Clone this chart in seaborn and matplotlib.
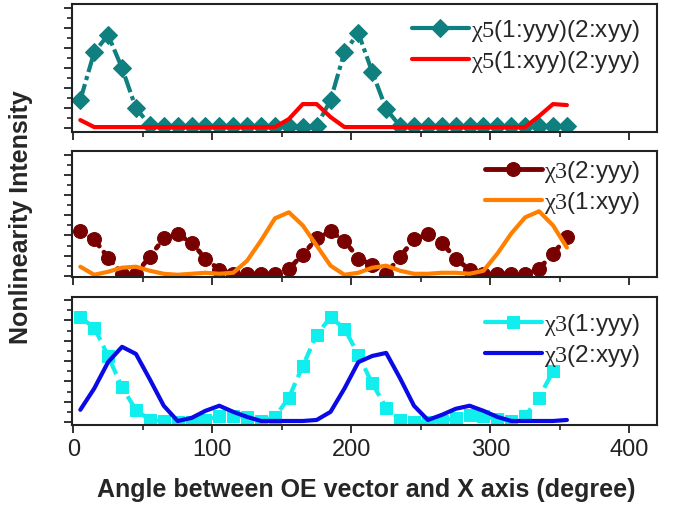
import numpy as np
import matplotlib
matplotlib.use("Agg")
import matplotlib.pyplot as plt
from matplotlib.ticker import MultipleLocator
import seaborn as sns

# angles 5..355 deg, step 10
ANGLES = list(range(5, 360, 10))

# panel 1: chi5
CHI5_YYY_XYY = [28, 76, 93, 60, 20, 3, 2, 2, 2, 2, 2, 2, 2, 2, 2, 2, 1, 2,
                28, 76, 95, 56, 19, 2, 2, 2, 2, 2, 2, 2, 2, 2, 2, 2, 2, 2]
CHI5_XYY_YYY = [8, 1, 1, 1, 1, 1, 1, 1, 1, 1, 1, 1, 1, 1, 1, 9, 24, 24,
                11, 1, 1, 1, 1, 1, 1, 1, 1, 1, 1, 1, 1, 1, 1, 12, 24, 23]

# panel 2: chi3
CHI3_2YYY = [44, 36, 18, 2, 2, 19, 37, 41, 33, 17, 6, 2, 2, 2, 2, 7, 21, 37,
             44, 35, 17, 11, 2, 19, 36, 41, 33, 17, 6, 2, 2, 2, 2, 7, 22, 38]
CHI3_1XYY = [9, 1, 4, 8, 9, 5, 2, 1, 2, 3, 2, 3, 15, 35, 57, 63, 50, 30,
             10, 1, 3, 8, 10, 5, 2, 2, 3, 3, 2, 5, 22, 42, 58, 64, 50, 28]

# panel 3: chi3 (cyan series stops at 345)
CHI3_1YYY = [103, 93, 65, 34, 12, 2, 1, 0, 0, 2, 6, 6, 5, 1, 5, 24, 55, 86,
             103, 92, 66, 38, 14, 2, 0, 0, 1, 4, 7, 6, 3, 1, 6, 24, 50]
CHI3_2XYY = [12, 33, 59, 74, 67, 42, 16, 1, 4, 11, 16, 10, 5, 1, 1, 1, 1, 2,
             10, 33, 59, 65, 68, 43, 16, 2, 7, 13, 16, 11, 5, 1, 1, 1, 1, 2]

LABELS = {
    "c5a": r"$\chi5$(1:yyy)(2:xyy)",
    "c5b": r"$\chi5$(1:xyy)(2:yyy)",
    "c3a": r"$\chi3$(2:yyy)",
    "c3b": r"$\chi3$(1:xyy)",
    "c3c": r"$\chi3$(1:yyy)",
    "c3d": r"$\chi3$(2:xyy)",
}

sns.set_style("ticks")
plt.rcParams["font.family"] = ["Liberation Sans", "DejaVu Sans"]
plt.rcParams["mathtext.fontset"] = "custom"
plt.rcParams["mathtext.rm"] = "Liberation Serif"
plt.rcParams["mathtext.it"] = "Liberation Serif"

fig = plt.figure(figsize=(6.79, 5.06), dpi=100)
L, W = 0.106, 0.862
ax1 = fig.add_axes([L, 0.737, W, 0.253])
ax2 = fig.add_axes([L, 0.451, W, 0.249])
ax3 = fig.add_axes([L, 0.158, W, 0.253])

# ── panel 1 ───────────────────────────────────────────────────────────────
sns.lineplot(x=ANGLES, y=CHI5_YYY_XYY, ax=ax1, color="#0f7f7f", lw=3,
             linestyle=(0, (4, 1, 1, 1)),
             marker="D", markersize=9, markeredgecolor="#0f7f7f",
             label=LABELS["c5a"])
sns.lineplot(x=ANGLES, y=CHI5_XYY_YYY, ax=ax1, color="#ff0000", lw=3,
             label=LABELS["c5b"])
ax1.set_ylim(-4, 124)

# ── panel 2 ───────────────────────────────────────────────────────────────
sns.lineplot(x=ANGLES, y=CHI3_2YYY, ax=ax2, color="#780000", lw=3.5,
             linestyle=(0, (0.6, 1.6)), dash_capstyle="round",
             marker="o", markersize=10, markeredgecolor="#780000",
             label=LABELS["c3a"])
sns.lineplot(x=ANGLES, y=CHI3_1XYY, ax=ax2, color="#ff8000", lw=3,
             label=LABELS["c3b"])
ax2.set_ylim(-1, 124)

# ── panel 3 ───────────────────────────────────────────────────────────────
sns.lineplot(x=ANGLES[:len(CHI3_1YYY)], y=CHI3_1YYY, ax=ax3, color="#10eeee",
             lw=3, linestyle=(0, (3, 1.5)), marker="s", markersize=8,
             markeredgecolor="#10eeee", label=LABELS["c3c"])
sns.lineplot(x=ANGLES, y=CHI3_2XYY, ax=ax3, color="#0a0ae6", lw=3,
             label=LABELS["c3d"])
ax3.set_ylim(-3, 123)

for ax, top in ((ax1, 1.03), (ax2, 1.075), (ax3, 1.02)):
    ax.set_xlim(-1, 420)
    ax.xaxis.set_major_locator(MultipleLocator(100))
    ax.xaxis.set_minor_locator(MultipleLocator(50))
    ax.yaxis.set_major_locator(MultipleLocator(20))
    ax.yaxis.set_minor_locator(MultipleLocator(10))
    ax.tick_params(which="major", direction="out", length=6, width=1.3,
                   color="#222222", labelsize=17, labelcolor="#222222")
    ax.tick_params(which="minor", direction="out", length=3.5, width=1.2,
                   color="#222222")
    ax.tick_params(axis="y", labelleft=False)
    for s in ax.spines.values():
        s.set_color("#222222")
        s.set_linewidth(1.5)
    ax.set_xlabel("")
    ax.set_ylabel("")
    leg = ax.legend(loc="upper right", bbox_to_anchor=(1.0, top),
                    frameon=False, fontsize=17.5, handlelength=2.35,
                    handletextpad=0.1, labelspacing=0.2, borderaxespad=0.3)
    # legend handles are drawn as solid lines
    for ln in leg.get_lines():
        ln.set_linestyle("-")

ax1.tick_params(axis="x", labelbottom=False)
ax2.tick_params(axis="x", labelbottom=False)

fig.text(0.031, 0.571, "Nonlinearity Intensity", rotation=90, ha="center",
         va="center", fontsize=18, fontweight="bold")
fig.text(0.54, 0.032, "Angle between OE vector and X axis (degree)",
         ha="center", va="center", fontsize=18, fontweight="bold")

fig.savefig("out.png", dpi=100)
